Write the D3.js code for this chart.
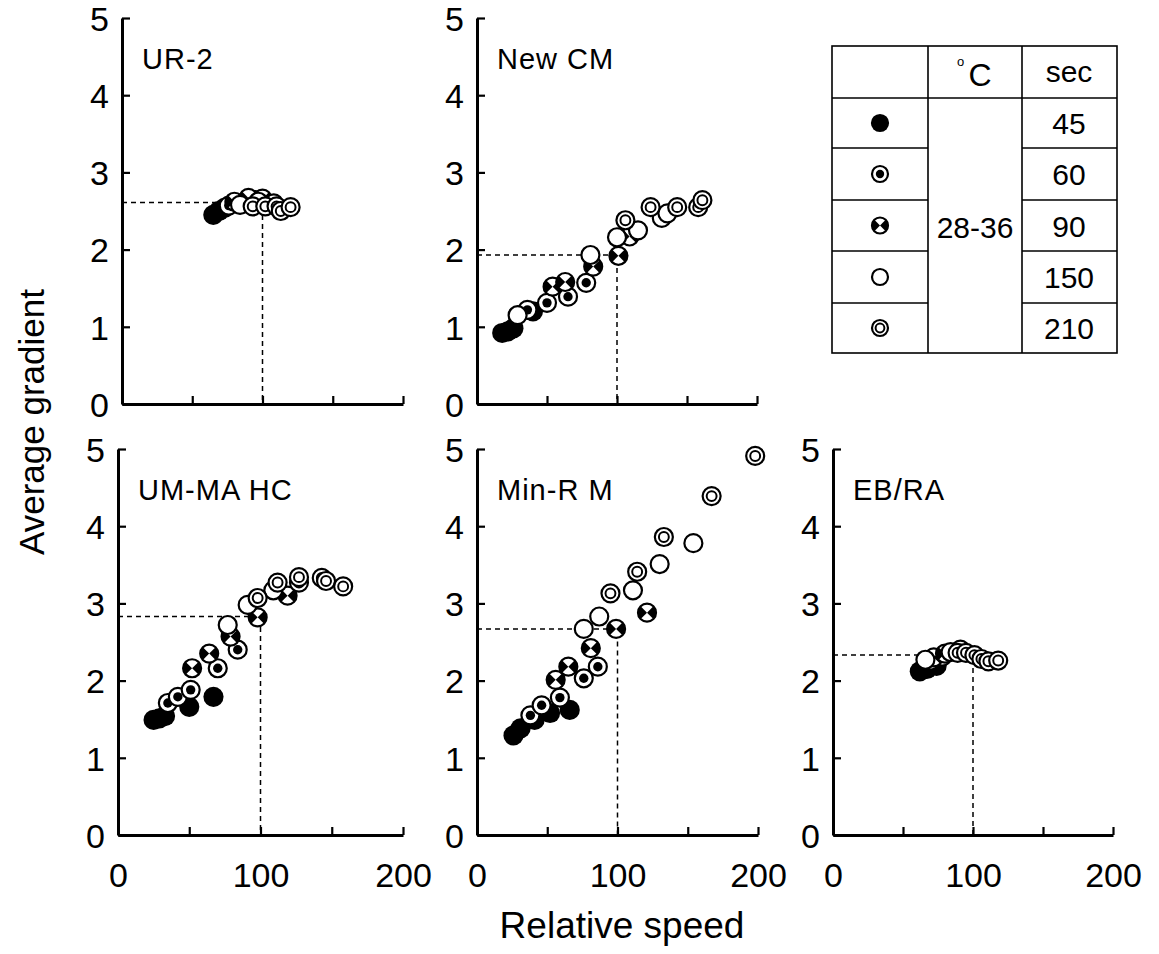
<!DOCTYPE html>
<html><head><meta charset="utf-8">
<script src="https://cdn.jsdelivr.net/npm/d3@7"></script>
<style>body{margin:0;background:#fff}svg{display:block}text{font-family:"Liberation Sans",Arial,sans-serif;fill:#000}</style>
</head><body><svg id="c" width="1159" height="954"></svg>
<script>
// ---------- data ----------
const seriesKeys = ["45","60","90","150","210"];
const secLabels = ["45","60","90","150","210"];
const tempLabel = "28-36";
const xTicks = [0,50,100,150,200];
const xTickLabels = ["0","100","200"];
const yTicks = [0,1,2,3,4,5];
const panelNames = ["UR-2","New CM","UM-MA HC","Min-R M","EB/RA"];
const refY = [2.61, 1.93, 2.83, 2.67, 2.33];

const ur2_45 = [[65,2.45],[69,2.5],[73,2.54]];
const ur2_60 = [[76,2.57],[86,2.6],[95,2.64]];
const ur2_90 = [[80,2.62],[90,2.67],[100,2.66]];
const ur2_150 = [[84,2.58],[97,2.62],[108,2.6]];
const ur2_210 = [[93,2.56],[102,2.56],[110,2.56],[113,2.5],[120,2.55]];

const ncm_45 = [[18,0.92],[22,0.94],[26,0.98],[40,1.2]];
const ncm_60 = [[36,1.22],[50,1.31],[65,1.39],[78,1.57]];
const ncm_90 = [[54,1.52],[63,1.58],[83,1.78],[101,1.92],[109,2.17]];
const ncm_150 = [[29,1.15],[81,1.93],[100,2.16],[115,2.25],[132,2.41],[136,2.47]];
const ncm_210 = [[106,2.38],[124,2.55],[143,2.55],[158,2.55],[161,2.64]];

const umma_45 = [[25,1.49],[29,1.51],[33,1.54],[50,1.66],[67,1.79]];
const umma_60 = [[35,1.71],[42,1.79],[51,1.88],[70,2.16],[84,2.4]];
const umma_90 = [[52,2.16],[64,2.35],[79,2.57],[98,2.82],[119,3.1]];
const umma_150 = [[77,2.72],[91,2.98],[109,3.17]];
const umma_210 = [[98,3.07],[112,3.27],[127,3.27],[127,3.34],[143,3.33],[146,3.29],[158,3.22]];

const minr_45 = [[26,1.29],[31,1.38],[41,1.49],[52,1.58],[66,1.62]];
const minr_60 = [[38,1.55],[46,1.68],[59,1.78],[76,2.03],[86,2.18]];
const minr_90 = [[56,2.01],[65,2.18],[81,2.42],[99,2.67],[121,2.88]];
const minr_150 = [[76,2.67],[87,2.83],[111,3.17],[130,3.51],[154,3.78]];
const minr_210 = [[95,3.13],[114,3.41],[133,3.86],[167,4.39],[198,4.91]];

const ebra_45 = [[62,2.12],[67,2.15],[74,2.19]];
const ebra_60 = [[70,2.26],[78,2.31]];
const ebra_90 = [[72,2.3],[80,2.35]];
const ebra_150 = [[66,2.27],[84,2.37],[91,2.4]];
const ebra_210 = [[89,2.36],[95,2.36],[101,2.33],[106,2.28],[111,2.25],[118,2.26]];

const panelData = [
  [ur2_45,ur2_60,ur2_90,ur2_150,ur2_210],
  [ncm_45,ncm_60,ncm_90,ncm_150,ncm_210],
  [umma_45,umma_60,umma_90,umma_150,umma_210],
  [minr_45,minr_60,minr_90,minr_150,minr_210],
  [ebra_45,ebra_60,ebra_90,ebra_150,ebra_210]
];

// ---------- layout ----------
const boxes = [
  {x0:122,x1:403,y0:404,y1:18, showX:false},
  {x0:477,x1:757,y0:404,y1:18, showX:false},
  {x0:118,x1:403,y0:835,y1:449, showX:true},
  {x0:477,x1:758,y0:835,y1:449, showX:true},
  {x0:833,x1:1113,y0:835,y1:449, showX:true}
];
const R = 9, SW = 2.2;
const svg = d3.select("#c");
svg.append("rect").attr("width",1159).attr("height",954).attr("fill","#fff");

function drawMarker(g, type, cx, cy, r){
  const m = g.append("g").attr("transform",`translate(${cx},${cy})`);
  if(type==="45"){
    m.append("circle").attr("r",r+SW/2).attr("fill","#000");
  } else if(type==="60"){
    m.append("circle").attr("r",r).attr("fill","#fff").attr("stroke","#000").attr("stroke-width",SW);
    m.append("circle").attr("r",r*0.52).attr("fill","#000");
  } else if(type==="90"){
    m.append("circle").attr("r",r).attr("fill","#fff").attr("stroke","#000").attr("stroke-width",SW);
    const arc = d3.arc().innerRadius(0).outerRadius(r);
    m.append("path").attr("d",arc({startAngle:Math.PI/4,endAngle:3*Math.PI/4})).attr("fill","#000");
    m.append("path").attr("d",arc({startAngle:5*Math.PI/4,endAngle:7*Math.PI/4})).attr("fill","#000");
  } else if(type==="150"){
    m.append("circle").attr("r",r).attr("fill","#fff").attr("stroke","#000").attr("stroke-width",SW);
  } else {
    m.append("circle").attr("r",r).attr("fill","#fff").attr("stroke","#000").attr("stroke-width",SW);
    m.append("circle").attr("r",r*0.55).attr("fill","none").attr("stroke","#000").attr("stroke-width",SW*0.9);
  }
}

boxes.forEach((b,i)=>{
  const x = d3.scaleLinear().domain([0,200]).range([b.x0,b.x1]);
  const y = d3.scaleLinear().domain([0,5]).range([b.y0,b.y1]);
  const g = svg.append("g");

  // y axis
  const ya = g.append("g").attr("transform",`translate(${b.x0},0)`)
    .call(d3.axisLeft(y).tickValues(yTicks).tickFormat(d3.format("d")).tickSizeInner(-8).tickSizeOuter(0).tickPadding(13));
  ya.select(".domain").attr("stroke","#000").attr("stroke-width",3);
  ya.selectAll(".tick line").attr("stroke","#000").attr("stroke-width",2.2);
  ya.selectAll(".tick text").style("font-size","34px").style("font-family","'Liberation Sans',Arial,sans-serif").attr("dy","0.36em");

  // x axis
  const xa = g.append("g").attr("transform",`translate(0,${b.y0})`)
    .call(d3.axisBottom(x).tickValues(xTicks)
      .tickFormat(d=> b.showX && xTickLabels.includes(String(d)) ? String(d) : "")
      .tickSizeInner(-8).tickSizeOuter(0).tickPadding(28));
  xa.select(".domain").attr("stroke","#000").attr("stroke-width",3);
  xa.selectAll(".tick line").attr("stroke","#000").attr("stroke-width",2.2);
  xa.selectAll(".tick text").style("font-size","34px").style("font-family","'Liberation Sans',Arial,sans-serif");

  // reference dashed lines
  const ry = refY[i];
  g.append("path")
    .attr("d",`M${x(0)},${y(ry)}H${x(100)}V${y(0)}`)
    .attr("fill","none").attr("stroke","#000").attr("stroke-width",1.5).attr("stroke-dasharray","5,4");

  // points
  const pg = g.append("g");
  panelData[i].forEach((ser,k)=>{
    ser.forEach(p=> drawMarker(pg, seriesKeys[k], x(p[0]), y(p[1]), R));
  });

  // title
  g.append("text").attr("x",x(0)+20).attr("y",y(5)+51).text(panelNames[i])
    .style("font-size","29px").style("letter-spacing","1px");
});

// axis titles
svg.append("text").attr("transform","translate(44,422) rotate(-90)").attr("text-anchor","middle")
  .style("font-size","35px").text("Average gradient");
svg.append("text").attr("x",622).attr("y",938).attr("text-anchor","middle")
  .style("font-size","37px").text("Relative speed");

// ---------- legend table ----------
const L = {x0:832,x1:1117,c1:928,c2:1022,y0:46,y1:353};
const rowLines = [46,98,148,200,251,303,353];
const lg = svg.append("g").attr("stroke","#000").attr("stroke-width",1.6).attr("fill","none");
lg.append("rect").attr("x",L.x0).attr("y",L.y0).attr("width",L.x1-L.x0).attr("height",L.y1-L.y0);
lg.append("line").attr("x1",L.c1).attr("x2",L.c1).attr("y1",L.y0).attr("y2",L.y1);
lg.append("line").attr("x1",L.c2).attr("x2",L.c2).attr("y1",L.y0).attr("y2",L.y1);
rowLines.slice(1,-1).forEach((yy,j)=>{
  lg.append("line").attr("x1",L.x0).attr("x2",L.c1).attr("y1",yy).attr("y2",yy);
  lg.append("line").attr("x1",L.c2).attr("x2",L.x1).attr("y1",yy).attr("y2",yy);
});
lg.append("line").attr("x1",L.c1).attr("x2",L.c2).attr("y1",rowLines[1]).attr("y2",rowLines[1]);

const lt = svg.append("g");
lt.append("text").attr("x",957).attr("y",66).style("font-size","13px").text("o");
lt.append("text").attr("x",980).attr("y",86).attr("text-anchor","middle").style("font-size","32px").text("C");
lt.append("text").attr("x",1069).attr("y",82).attr("text-anchor","middle").style("font-size","30px").text("sec");
lt.append("text").attr("x",975).attr("y",238).attr("text-anchor","middle").style("font-size","30px").text(tempLabel);
secLabels.forEach((s,j)=>{
  const cy = (rowLines[j+1]+rowLines[j+2])/2;
  lt.append("text").attr("x",1069).attr("y",cy+11).attr("text-anchor","middle").style("font-size","30px").text(s);
  drawMarker(lt, seriesKeys[j], 880, cy, 8);
});
</script></body></html>
